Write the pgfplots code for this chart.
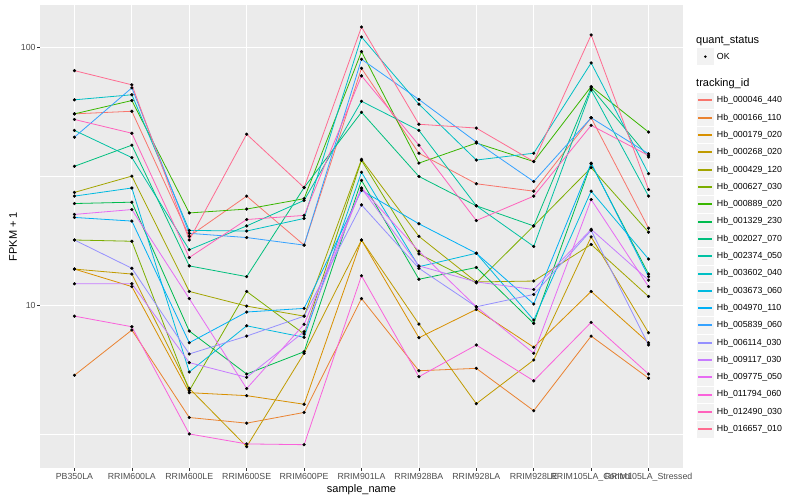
\documentclass[border=0pt]{standalone}
\usepackage{fontspec}
\setmainfont{Liberation Sans}
\usepackage{pgfplots}
\pgfplotsset{compat=1.18}
\usepackage{pgfplotstable}

\definecolor{ggbg}{HTML}{EBEBEB}
\definecolor{ggkey}{HTML}{F2F2F2}
\definecolor{grey30}{HTML}{4D4D4D}
\definecolor{grey20}{HTML}{333333}
\definecolor{c1}{HTML}{F8766D}
\definecolor{c2}{HTML}{EA8331}
\definecolor{c3}{HTML}{D89000}
\definecolor{c4}{HTML}{C09B00}
\definecolor{c5}{HTML}{A3A500}
\definecolor{c6}{HTML}{7CAE00}
\definecolor{c7}{HTML}{39B600}
\definecolor{c8}{HTML}{00BB4E}
\definecolor{c9}{HTML}{00BF7D}
\definecolor{c10}{HTML}{00C1A3}
\definecolor{c11}{HTML}{00BFC4}
\definecolor{c12}{HTML}{00BAE0}
\definecolor{c13}{HTML}{00B0F6}
\definecolor{c14}{HTML}{35A2FF}
\definecolor{c15}{HTML}{9590FF}
\definecolor{c16}{HTML}{C77CFF}
\definecolor{c17}{HTML}{E76BF3}
\definecolor{c18}{HTML}{FA62DB}
\definecolor{c19}{HTML}{FF62BC}
\definecolor{c20}{HTML}{FF6C91}

% FPKM + 1 per sample (rows) and tracking_id (columns s1..s20, legend order)
\pgfplotstableread{
x  s1   s2   s3   s4   s5   s6   s7   s8   s9   s10  s11   s12  s13  s14  s15  s16  s17  s18  s19  s20
0  55.3 5.34 13.8 13.8 27.4 17.9 55.3 24.8 34.6 47.7 62.7  26.5 21.9 44.9 17.9 12.1 22.5 9.06 52.6 81.4
1  56.6 8.00 11.8 13.2 31.7 17.7 62.3 25.1 41.8 37.4 65.6  28.5 21.2 69.8 13.9 12.1 23.5 8.24 46.5 71.7
2  18.5 3.66 4.57 4.75 11.3 4.65 22.8 7.93 14.2 16.4 19.5  5.50 7.14 19.0 6.46 5.98 10.6 3.16 15.3 17.9
3  26.5 3.48 4.45 2.82 9.91 11.3 23.6 5.40 12.9 20.3 19.4  8.31 9.40 18.3 7.58 5.24 4.74 2.89 21.5 46.1
4  17.1 3.83 4.12 6.50 9.06 7.72 25.9 6.59 28.6 25.5 21.7  7.50 9.71 17.1 9.06 7.88 8.42 2.87 22.3 28.6
5  83.1 10.6 17.9 17.9 36.8 36.5 96.5 30.5 56.1 61.9 110.0 32.8 27.9 90.1 24.5 28.4 28.5 13.0 77.7 120.3
6  38.9 5.56 7.47 8.44 18.5 15.8 35.6 12.6 31.6 47.7 60.3  14.1 20.7 62.9 13.9 14.2 16.2 5.27 41.8 50.4
7  29.6 5.68 9.62 4.14 12.3 12.2 42.6 14.0 24.3 24.3 36.6  15.9 15.9 43.0 9.85 12.3 9.85 7.00 21.3 48.7
8  27.7 3.89 6.86 6.12 12.4 20.3 36.1 8.49 20.3 16.9 38.9  8.75 10.1 30.2 11.0 11.5 6.50 5.08 26.5 36.1
9  53.4 7.58 11.3 18.4 17.2 34.2 70.6 35.4 69.8 68.5 87.2  27.7 35.6 53.4 19.5 19.7 25.7 8.57 49.9 112.0
10 19.9 5.20 7.14 7.81 10.8 19.2 47.0 13.2 37.6 26.5 32.4  15.1 12.9 38.7 7.00 12.5 11.8 5.40 38.1 28.1
}\fpkm

\begin{document}
\begin{tikzpicture}
\path[use as bounding box, fill=white] (0pt,0pt) rectangle (800pt,500pt);
\begin{axis}[
    at={(40pt,32pt)}, anchor=south west,
    scale only axis, width=643pt, height=463pt,
    xmin=-0.6, xmax=10.6,
    ymode=log, ymin=2.33, ymax=146.4,
    axis background/.style={fill=ggbg},
    axis line style={draw=none},
    xtick={0,...,10},
    xticklabels={PB350LA,RRIM600LA,RRIM600LE,RRIM600SE,RRIM600PE,RRIM901LA,RRIM928BA,RRIM928LA,RRIM928LE,RRIM105LA\_Control,RRIM105LA\_Stressed},
    ytick={10,100}, yticklabels={10,100},
    minor ytick={3.1623,31.623},
    xmajorgrids, ymajorgrids, yminorgrids,
    major grid style={white, line width=1.07pt},
    minor grid style={white, line width=0.53pt},
    tick align=outside, major tick length=2.75pt, minor tick length=0pt,
    tick style={grey20, line width=0.5pt},
    xtick pos=bottom, ytick pos=left,
    /pgf/number format/assume math mode=true,
    xticklabel style={font=\fontsize{8.8}{10}\selectfont, text=grey30, anchor=north, inner sep=0pt, yshift=-2.5pt},
    yticklabel style={font=\fontsize{8.8}{10}\selectfont, text=grey30, anchor=east, inner sep=0pt, xshift=-1.5pt},
    xlabel={sample\_name}, ylabel={FPKM + 1},
    every axis x label/.style={at={(axis description cs:0.5,0)}, yshift=-22pt, anchor=center, font=\fontsize{11}{13}\selectfont},
    every axis y label/.style={at={(axis description cs:0,0.5)}, xshift=-27pt, rotate=90, anchor=center, font=\fontsize{11}{13}\selectfont},
    clip=false,
]
\pgfplotsinvokeforeach{1,...,20}{
  \addplot[draw=c#1, line width=0.8pt, mark=none] table[x=x, y=s#1]{\fpkm};
}
\pgfplotsinvokeforeach{1,...,20}{
  \addplot[only marks, mark=*, mark size=1.4pt, mark options={fill=black, draw=black}] table[x=x, y=s#1]{\fpkm};
}
\end{axis}

% legend
\node[anchor=west, inner sep=0pt, font=\fontsize{11}{13}\selectfont] at (696pt,459.3pt) {quant\_status};
\fill[ggkey] (696.7pt,434.65pt) rectangle (714pt,451.95pt);
\fill[black] (705.35pt,443.3pt) circle (1.4pt);
\node[anchor=west, inner sep=0pt, font=\fontsize{8.8}{10}\selectfont] at (716.7pt,443.3pt) {OK};
\node[anchor=west, inner sep=0pt, font=\fontsize{11}{13}\selectfont] at (696pt,416pt) {tracking\_id};
\foreach \i/\lab in {1/Hb\_000046\_440,2/Hb\_000166\_110,3/Hb\_000179\_020,4/Hb\_000268\_020,5/Hb\_000429\_120,6/Hb\_000627\_030,7/Hb\_000889\_020,8/Hb\_001329\_230,9/Hb\_002027\_070,10/Hb\_002374\_050,11/Hb\_003602\_040,12/Hb\_003673\_060,13/Hb\_004970\_110,14/Hb\_005839\_060,15/Hb\_006114\_030,16/Hb\_009117\_030,17/Hb\_009775\_050,18/Hb\_011794\_060,19/Hb\_012490\_030,20/Hb\_016657\_010}{
  \pgfmathsetmacro{\yy}{399.5-17.3*(\i-1)}
  \pgfmathsetmacro{\yl}{round(\yy)}
  \fill[ggkey, draw=white, line width=0.5pt] (696.7pt,\yy pt-8.65pt) rectangle (714pt,\yy pt+8.65pt);
  \fill[c\i] (698.4pt,\yl pt-1pt) rectangle (712.3pt,\yl pt+1pt);
  \node[anchor=west, inner sep=0pt, font=\fontsize{8.8}{10}\selectfont] at (716.7pt,\yy pt) {\lab};
}
\end{tikzpicture}
\end{document}
